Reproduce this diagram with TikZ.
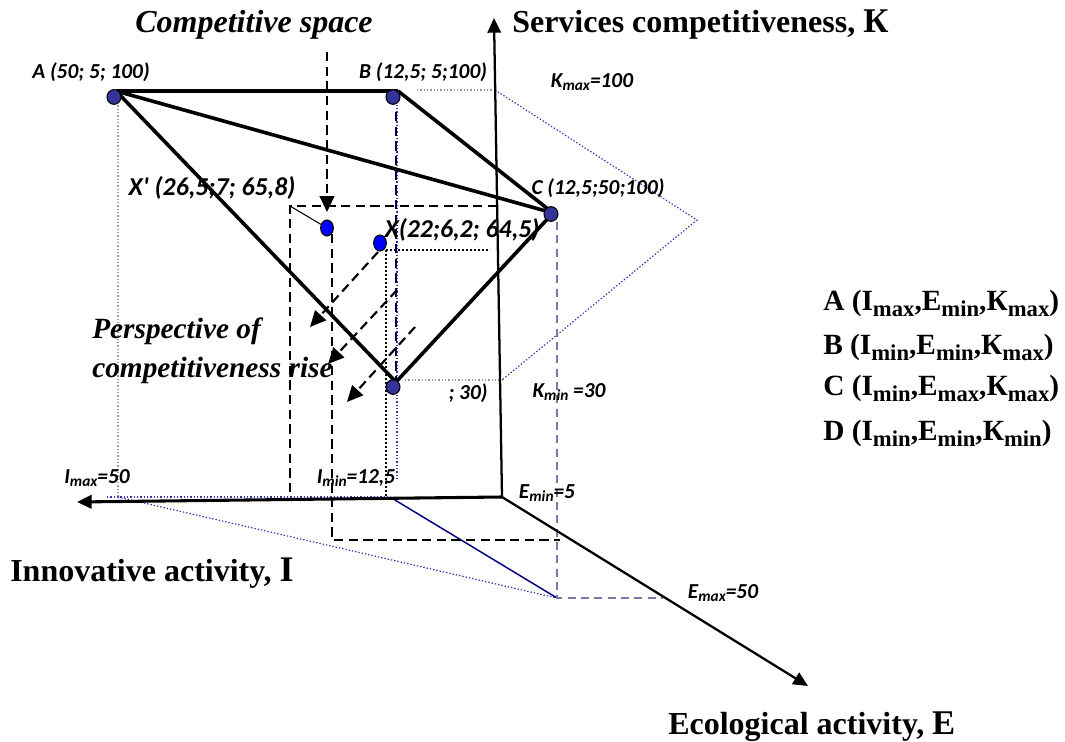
\documentclass[tikz,border=0pt]{standalone}
\usepackage{fontspec}
\setmainfont{Liberation Serif}
\newfontfamily\calibf{Carlito}
\usetikzlibrary{arrows.meta,shapes.geometric}
\definecolor{dotblue}{HTML}{333399}
\definecolor{xblue}{HTML}{0000FF}
\definecolor{navyline}{HTML}{000080}
\definecolor{grayblue}{HTML}{7777AA}
\definecolor{dotgray}{HTML}{999999}
\definecolor{dotline}{HTML}{3333AA}
\newcommand{\lsb}[1]{\raisebox{-0.35ex}{\fontsize{11.5}{11.5}\selectfont #1}}
\newcommand{\gsb}[1]{\raisebox{-0.45ex}{\fontsize{17}{17}\selectfont #1}}
\begin{document}
\begin{tikzpicture}[x=0.75pt,y=-0.75pt,
  lbl/.style={font=\calibf\bfseries\itshape\fontsize{16}{17}\selectfont, inner sep=0pt},
  xlbl/.style={font=\calibf\bfseries\itshape\fontsize{19.3}{20}\selectfont, inner sep=0pt},
  bigt/.style={font=\bfseries\fontsize{24}{26}\selectfont, inner sep=0pt},
  bigit/.style={font=\bfseries\itshape\fontsize{24}{26}\selectfont, inner sep=0pt},
  perst/.style={font=\bfseries\itshape\fontsize{22}{29}\selectfont, inner sep=0pt, align=left},
  legt/.style={font=\bfseries\fontsize{22}{24}\selectfont, inner sep=0pt, anchor=west},
  vdot/.style={ellipse, draw=black, line width=0.8pt, fill=dotblue, minimum width=10.5pt, minimum height=11pt, inner sep=0pt},
  xdot/.style={ellipse, draw=black, line width=0.8pt, fill=xblue, minimum width=9.5pt, minimum height=12pt, inner sep=0pt},
  edge/.style={line width=2.7pt, black},
  axis/.style={line width=1.7pt, black, -{Triangle[length=11pt,width=10pt]}},
  bdash/.style={line width=1.5pt, black, dash pattern=on 7pt off 4pt},
  parrow/.style={line width=1.6pt, black, dash pattern=on 7pt off 4pt, -{Triangle[length=12pt,width=11pt]}},
  gdot/.style={line width=0.9pt, dotgray, dash pattern=on 1pt off 1.5pt},
  bdot/.style={line width=0.9pt, dotline, dash pattern=on 1pt off 1.5pt},
  kdot/.style={line width=1.1pt, black, dash pattern=on 1.2pt off 1.8pt},
  gbdash/.style={line width=1.1pt, grayblue, dash pattern=on 6pt off 4pt}
]
\useasboundingbox (0,0) rectangle (1065,742);
% axes coordinates
\coordinate (O) at (502,497);
\coordinate (Ktop) at (494,18);
\coordinate (Iend) at (77,502);
\coordinate (Eend) at (808,686);
% helper coordinates
\coordinate (Imax) at (118,497);
\coordinate (Imaxs) at (107,497);
\coordinate (Imin) at (390,497);
\coordinate (Ebot) at (557,598);
\coordinate (Eax) at (663,598);
\coordinate (Kmaxp) at (495,90);
\coordinate (Rv) at (697,220);
\coordinate (Kminp) at (502,380);
\coordinate (Bdr) at (417,90);
\coordinate (Ddr) at (405,380);
\coordinate (Ctop) at (557,222);
\coordinate (Bx) at (397,98);
\coordinate (Bxl) at (397,480);
\coordinate (Adr) at (118,102);
\coordinate (Xv) at (386,250);
\coordinate (Xvb) at (386,497);
\coordinate (Xh) at (490,250);
\coordinate (Dv) at (396,112);
\coordinate (Dvb) at (396,380);
% dashed box
\coordinate (T1) at (290,206);
\coordinate (T2) at (497,206);
\coordinate (L1) at (290,497);
\coordinate (V1) at (332,234);
\coordinate (V2) at (332,540);
\coordinate (H2) at (560,540);
% competitive arrow
\coordinate (CSs) at (327,52);
\coordinate (CSe) at (327,212);
% perspective arrows
\coordinate (P1s) at (378,252); \coordinate (P1e) at (310,327);
\coordinate (P2s) at (397,290); \coordinate (P2e) at (328,364);
\coordinate (P3s) at (415,327); \coordinate (P3e) at (347,402);
% vertices for edges
\coordinate (Ae) at (116,91);
\coordinate (Be) at (398,91);
\coordinate (Ce) at (553,213);
\coordinate (De) at (396,382);

% thin guide lines
\draw[gdot] (Adr) -- (Imax);
\draw[gdot] (Bdr) -- (Kmaxp);
\draw[bdot] (Kmaxp) -- (Rv) -- (Kminp);
\draw[gdot] (Ddr) -- (Kminp);
\draw[bdot] (Bx) -- (Bxl);
\draw[kdot] (Xv) -- (Xvb);
\draw[kdot] (Xv) -- (Xh);
\draw[bdot] (Imaxs) -- (Imin);
\draw[bdot] (Imax) -- (Ebot);
\draw[navyline, line width=1.1pt] (Imin) -- (Ebot);
\draw[gbdash] (Ctop) -- (Ebot) -- (Eax);
% dashed box
\draw[bdash] (T2) -- (T1) -- (L1);
\draw[bdash] (V1) -- (V2) -- (H2);
\draw[line width=2.2pt, black!70!blue, dash pattern=on 7pt off 4pt] (Dv) -- (Dvb);
% axes
\draw[axis] (O) -- (Ktop);
\draw[axis, line width=2.3pt] (O) -- (Iend);
\draw[axis] (O) -- (Eend);
% edges
\draw[edge] (Ae) -- (Be);
\draw[edge] (Ae) -- (Ce);
\draw[edge] (Ae) -- (De);
\draw[edge] (Be) -- (Ce);
\draw[edge] (Ce) -- (De);
% arrows
\draw[parrow] (CSs) -- (CSe);
\draw[parrow] (P1s) -- (P1e);
\draw[parrow] (P2s) -- (P2e);
\draw[parrow] (P3s) -- (P3e);
% dots
\node[vdot] (A) at (114,97) {};
\node[vdot] (B) at (393,97) {};
\node[vdot] (C) at (551,214) {};
\node[vdot] (D) at (393,387) {};
\node[xdot] (Xp) at (327,228) {};
\node[xdot] (X) at (380,243) {};
\draw[line width=0.8pt] (T1) -- (Xp);

% labels
\node[bigit] (cs) at (254,25) {Competitive space};
\node[bigt, anchor=west] (sk) at (512,25) {Services competitiveness, {\fontsize{26}{26}\selectfont К}};
\node[lbl] (la) at (91,72) {A (50; 5; 100)};
\node[lbl] (lb) at (423,72) {B (12,5; 5;100)};
\node[lbl] (lc) at (598,188) {C (12,5;50;100)};
\node[lbl] (lkmax) at (592,82) {K\lsb{max}=100};
\node[xlbl] (lxp) at (212,188) {X' (26,5;7; 65,8)};
\node[xlbl] (lx) at (462,230) {X(22;6,2; 64,5)};
\node[lbl] (ld) at (468,393) {; 30)};
\node[lbl] (lkmin) at (569,392) {K\lsb{min} =30};
\node[lbl] (limax) at (97,478) {I\lsb{max}=50};
\node[lbl] (limin) at (356,478) {I\lsb{min}=12,5};
\node[lbl] (lemin) at (547,493) {E\lsb{min}=5};
\node[lbl] (lemax) at (723,593) {E\lsb{max}=50};
\node[perst, anchor=north west] (pers) at (92,318) {Perspective of\\competitiveness rise};
\node[bigt, anchor=west] (ia) at (10,573) {Innovative activity, {\fontsize{27}{27}\selectfont I}};
\node[bigt, anchor=west] (ea) at (668,727) {Ecological activity, {\fontsize{26}{26}\selectfont E}};
\node[legt] (g1) at (823,303) {A (I\gsb{max},E\gsb{min},К\gsb{max})};
\node[legt] (g2) at (823,347) {B (I\gsb{min},E\gsb{min},К\gsb{max})};
\node[legt] (g3) at (823,388) {C (I\gsb{min},E\gsb{max},К\gsb{max})};
\node[legt] (g4) at (823,433) {D (I\gsb{min},E\gsb{min},К\gsb{min})};
\end{tikzpicture}
\end{document}
